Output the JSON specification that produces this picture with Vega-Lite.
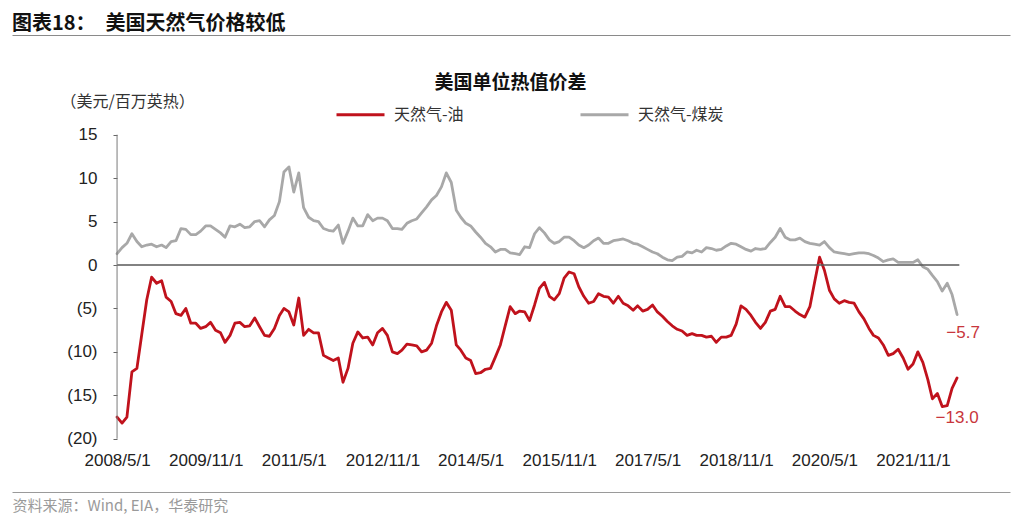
{
  "$schema": "https://vega.github.io/schema/vega-lite/v6.json",
  "width": 998,
  "height": 457,
  "autosize": "none",
  "padding": {"left": 12, "top": 35, "right": 14, "bottom": 34},
  "background": "white",
  "config": {"view": {"stroke": null}, "font": "Noto Sans CJK SC"},
  "title": {"text": "图表18：　美国天然气价格较低", "anchor": "start", "frame": "group", "font": "Noto Sans CJK SC", "fontSize": 20, "fontWeight": "bold", "color": "#111111", "offset": 2, "dy": 21, "baseline": "bottom"},
  "data": {"values": [
    {"date": "2008-05-01", "oil": -17.5, "coal": 1.3},
    {"date": "2008-06-01", "oil": -18.2, "coal": 2.0},
    {"date": "2008-07-01", "oil": -17.5, "coal": 2.5},
    {"date": "2008-08-01", "oil": -12.3, "coal": 3.6},
    {"date": "2008-09-01", "oil": -11.9, "coal": 2.7},
    {"date": "2008-10-01", "oil": -8.0, "coal": 2.1},
    {"date": "2008-11-01", "oil": -4.0, "coal": 2.3},
    {"date": "2008-12-01", "oil": -1.4, "coal": 2.4},
    {"date": "2009-01-01", "oil": -2.1, "coal": 2.1},
    {"date": "2009-02-01", "oil": -1.8, "coal": 2.3},
    {"date": "2009-03-01", "oil": -3.7, "coal": 2.0},
    {"date": "2009-04-01", "oil": -4.2, "coal": 2.7},
    {"date": "2009-05-01", "oil": -5.6, "coal": 2.8},
    {"date": "2009-06-01", "oil": -5.8, "coal": 4.2},
    {"date": "2009-07-01", "oil": -5.0, "coal": 4.1},
    {"date": "2009-08-01", "oil": -6.7, "coal": 3.5},
    {"date": "2009-09-01", "oil": -6.7, "coal": 3.5},
    {"date": "2009-10-01", "oil": -7.3, "coal": 3.9},
    {"date": "2009-11-01", "oil": -7.1, "coal": 4.5},
    {"date": "2009-12-01", "oil": -6.6, "coal": 4.5},
    {"date": "2010-01-01", "oil": -7.5, "coal": 4.1},
    {"date": "2010-02-01", "oil": -7.8, "coal": 3.7},
    {"date": "2010-03-01", "oil": -8.9, "coal": 3.2},
    {"date": "2010-04-01", "oil": -8.1, "coal": 4.5},
    {"date": "2010-05-01", "oil": -6.7, "coal": 4.4},
    {"date": "2010-06-01", "oil": -6.6, "coal": 4.7},
    {"date": "2010-07-01", "oil": -7.1, "coal": 4.3},
    {"date": "2010-08-01", "oil": -7.0, "coal": 4.4},
    {"date": "2010-09-01", "oil": -6.1, "coal": 5.0},
    {"date": "2010-10-01", "oil": -7.1, "coal": 5.1},
    {"date": "2010-11-01", "oil": -8.1, "coal": 4.4},
    {"date": "2010-12-01", "oil": -8.2, "coal": 5.2},
    {"date": "2011-01-01", "oil": -7.3, "coal": 5.7},
    {"date": "2011-02-01", "oil": -5.8, "coal": 7.3},
    {"date": "2011-03-01", "oil": -5.0, "coal": 10.7},
    {"date": "2011-04-01", "oil": -5.4, "coal": 11.3},
    {"date": "2011-05-01", "oil": -6.9, "coal": 8.4},
    {"date": "2011-06-01", "oil": -3.8, "coal": 10.6},
    {"date": "2011-07-01", "oil": -8.1, "coal": 6.6},
    {"date": "2011-08-01", "oil": -7.4, "coal": 5.5},
    {"date": "2011-09-01", "oil": -7.8, "coal": 5.1},
    {"date": "2011-10-01", "oil": -7.8, "coal": 5.0},
    {"date": "2011-11-01", "oil": -10.4, "coal": 4.2},
    {"date": "2011-12-01", "oil": -10.7, "coal": 4.0},
    {"date": "2012-01-01", "oil": -11.0, "coal": 3.9},
    {"date": "2012-02-01", "oil": -10.7, "coal": 4.6},
    {"date": "2012-03-01", "oil": -13.5, "coal": 2.5},
    {"date": "2012-04-01", "oil": -11.9, "coal": 3.9},
    {"date": "2012-05-01", "oil": -9.0, "coal": 5.4},
    {"date": "2012-06-01", "oil": -7.7, "coal": 4.5},
    {"date": "2012-07-01", "oil": -8.4, "coal": 4.5},
    {"date": "2012-08-01", "oil": -8.3, "coal": 5.8},
    {"date": "2012-09-01", "oil": -9.2, "coal": 5.1},
    {"date": "2012-10-01", "oil": -7.8, "coal": 5.4},
    {"date": "2012-11-01", "oil": -7.3, "coal": 5.4},
    {"date": "2012-12-01", "oil": -8.1, "coal": 5.1},
    {"date": "2013-01-01", "oil": -10.0, "coal": 4.2},
    {"date": "2013-02-01", "oil": -10.2, "coal": 4.2},
    {"date": "2013-03-01", "oil": -9.8, "coal": 4.1},
    {"date": "2013-04-01", "oil": -9.1, "coal": 4.8},
    {"date": "2013-05-01", "oil": -9.2, "coal": 5.1},
    {"date": "2013-06-01", "oil": -9.3, "coal": 5.3},
    {"date": "2013-07-01", "oil": -10.0, "coal": 6.0},
    {"date": "2013-08-01", "oil": -9.8, "coal": 6.7},
    {"date": "2013-09-01", "oil": -9.0, "coal": 7.5},
    {"date": "2013-10-01", "oil": -7.0, "coal": 8.0},
    {"date": "2013-11-01", "oil": -5.4, "coal": 9.0},
    {"date": "2013-12-01", "oil": -4.3, "coal": 10.6},
    {"date": "2014-01-01", "oil": -5.2, "coal": 9.5},
    {"date": "2014-02-01", "oil": -9.2, "coal": 6.3},
    {"date": "2014-03-01", "oil": -9.8, "coal": 5.5},
    {"date": "2014-04-01", "oil": -10.7, "coal": 4.8},
    {"date": "2014-05-01", "oil": -11.0, "coal": 4.5},
    {"date": "2014-06-01", "oil": -12.5, "coal": 3.8},
    {"date": "2014-07-01", "oil": -12.4, "coal": 3.2},
    {"date": "2014-08-01", "oil": -12.0, "coal": 2.5},
    {"date": "2014-09-01", "oil": -11.9, "coal": 2.1},
    {"date": "2014-10-01", "oil": -10.6, "coal": 1.5},
    {"date": "2014-11-01", "oil": -9.2, "coal": 1.8},
    {"date": "2014-12-01", "oil": -7.0, "coal": 1.8},
    {"date": "2015-01-01", "oil": -4.8, "coal": 1.4},
    {"date": "2015-02-01", "oil": -5.6, "coal": 1.3},
    {"date": "2015-03-01", "oil": -5.3, "coal": 1.2},
    {"date": "2015-04-01", "oil": -5.4, "coal": 2.1},
    {"date": "2015-05-01", "oil": -6.4, "coal": 2.0},
    {"date": "2015-06-01", "oil": -4.6, "coal": 3.6},
    {"date": "2015-07-01", "oil": -2.7, "coal": 4.3},
    {"date": "2015-08-01", "oil": -2.0, "coal": 3.7},
    {"date": "2015-09-01", "oil": -3.6, "coal": 2.9},
    {"date": "2015-10-01", "oil": -4.0, "coal": 2.5},
    {"date": "2015-11-01", "oil": -3.3, "coal": 2.7},
    {"date": "2015-12-01", "oil": -1.5, "coal": 3.2},
    {"date": "2016-01-01", "oil": -0.8, "coal": 3.2},
    {"date": "2016-02-01", "oil": -1.0, "coal": 2.8},
    {"date": "2016-03-01", "oil": -2.5, "coal": 2.3},
    {"date": "2016-04-01", "oil": -3.6, "coal": 2.0},
    {"date": "2016-05-01", "oil": -4.4, "coal": 2.3},
    {"date": "2016-06-01", "oil": -4.2, "coal": 2.8},
    {"date": "2016-07-01", "oil": -3.3, "coal": 3.1},
    {"date": "2016-08-01", "oil": -3.6, "coal": 2.5},
    {"date": "2016-09-01", "oil": -3.7, "coal": 2.5},
    {"date": "2016-10-01", "oil": -4.4, "coal": 2.8},
    {"date": "2016-11-01", "oil": -3.6, "coal": 2.9},
    {"date": "2016-12-01", "oil": -4.4, "coal": 3.0},
    {"date": "2017-01-01", "oil": -4.7, "coal": 2.8},
    {"date": "2017-02-01", "oil": -5.2, "coal": 2.5},
    {"date": "2017-03-01", "oil": -4.7, "coal": 2.4},
    {"date": "2017-04-01", "oil": -5.3, "coal": 2.1},
    {"date": "2017-05-01", "oil": -5.1, "coal": 1.8},
    {"date": "2017-06-01", "oil": -4.6, "coal": 1.5},
    {"date": "2017-07-01", "oil": -5.4, "coal": 1.3},
    {"date": "2017-08-01", "oil": -5.9, "coal": 0.9},
    {"date": "2017-09-01", "oil": -6.5, "coal": 0.6},
    {"date": "2017-10-01", "oil": -7.0, "coal": 0.5},
    {"date": "2017-11-01", "oil": -7.4, "coal": 0.9},
    {"date": "2017-12-01", "oil": -7.6, "coal": 1.0},
    {"date": "2018-01-01", "oil": -8.1, "coal": 1.5},
    {"date": "2018-02-01", "oil": -7.9, "coal": 1.4},
    {"date": "2018-03-01", "oil": -8.1, "coal": 1.7},
    {"date": "2018-04-01", "oil": -8.1, "coal": 1.5},
    {"date": "2018-05-01", "oil": -8.3, "coal": 2.0},
    {"date": "2018-06-01", "oil": -8.2, "coal": 1.9},
    {"date": "2018-07-01", "oil": -8.9, "coal": 1.7},
    {"date": "2018-08-01", "oil": -8.3, "coal": 1.8},
    {"date": "2018-09-01", "oil": -8.3, "coal": 2.2},
    {"date": "2018-10-01", "oil": -8.1, "coal": 2.5},
    {"date": "2018-11-01", "oil": -6.8, "coal": 2.4},
    {"date": "2018-12-01", "oil": -4.7, "coal": 2.1},
    {"date": "2019-01-01", "oil": -5.1, "coal": 1.8},
    {"date": "2019-02-01", "oil": -5.8, "coal": 1.6},
    {"date": "2019-03-01", "oil": -6.6, "coal": 1.9},
    {"date": "2019-04-01", "oil": -7.3, "coal": 1.8},
    {"date": "2019-05-01", "oil": -6.6, "coal": 1.9},
    {"date": "2019-06-01", "oil": -5.3, "coal": 2.6},
    {"date": "2019-07-01", "oil": -5.1, "coal": 3.2},
    {"date": "2019-08-01", "oil": -3.6, "coal": 4.2},
    {"date": "2019-09-01", "oil": -4.8, "coal": 3.2},
    {"date": "2019-10-01", "oil": -4.8, "coal": 2.9},
    {"date": "2019-11-01", "oil": -5.3, "coal": 2.9},
    {"date": "2019-12-01", "oil": -5.7, "coal": 3.1},
    {"date": "2020-01-01", "oil": -6.0, "coal": 2.7},
    {"date": "2020-02-01", "oil": -4.8, "coal": 2.5},
    {"date": "2020-03-01", "oil": -2.0, "coal": 2.4},
    {"date": "2020-04-01", "oil": 0.9, "coal": 2.3},
    {"date": "2020-05-01", "oil": -0.6, "coal": 2.7},
    {"date": "2020-06-01", "oil": -2.9, "coal": 2.0},
    {"date": "2020-07-01", "oil": -3.9, "coal": 1.5},
    {"date": "2020-08-01", "oil": -4.4, "coal": 1.4},
    {"date": "2020-09-01", "oil": -4.1, "coal": 1.3},
    {"date": "2020-10-01", "oil": -4.3, "coal": 1.2},
    {"date": "2020-11-01", "oil": -4.4, "coal": 1.3},
    {"date": "2020-12-01", "oil": -5.4, "coal": 1.4},
    {"date": "2021-01-01", "oil": -6.2, "coal": 1.4},
    {"date": "2021-02-01", "oil": -7.3, "coal": 1.3},
    {"date": "2021-03-01", "oil": -8.1, "coal": 1.1},
    {"date": "2021-04-01", "oil": -8.4, "coal": 0.8},
    {"date": "2021-05-01", "oil": -9.2, "coal": 0.4},
    {"date": "2021-06-01", "oil": -10.4, "coal": 0.6},
    {"date": "2021-07-01", "oil": -10.2, "coal": 0.7},
    {"date": "2021-08-01", "oil": -9.7, "coal": 0.3},
    {"date": "2021-09-01", "oil": -10.7, "coal": 0.3},
    {"date": "2021-10-01", "oil": -12.0, "coal": 0.3},
    {"date": "2021-11-01", "oil": -11.4, "coal": 0.3},
    {"date": "2021-12-01", "oil": -10.0, "coal": 0.6},
    {"date": "2022-01-01", "oil": -11.2, "coal": -0.2},
    {"date": "2022-02-01", "oil": -13.2, "coal": -0.5},
    {"date": "2022-03-01", "oil": -15.4, "coal": -1.2},
    {"date": "2022-04-01", "oil": -14.8, "coal": -1.9},
    {"date": "2022-05-01", "oil": -16.3, "coal": -3.0},
    {"date": "2022-06-01", "oil": -16.2, "coal": -2.1},
    {"date": "2022-07-01", "oil": -14.2, "coal": -3.4},
    {"date": "2022-08-01", "oil": -13.0, "coal": -5.7}
  ]},
  "transform": [{"fold": ["oil", "coal"], "as": ["series", "value"]}],
  "encoding": {
    "y": {
      "field": "value", "type": "quantitative",
      "scale": {"domain": [-26.13, 26.48], "nice": false, "zero": false},
      "axis": {
        "orient": "left", "offset": -105,
        "values": [-20, -15, -10, -5, 0, 5, 10, 15],
        "labelExpr": "datum.value < 0 ? '(' + (-datum.value) + ')' : '' + datum.value",
        "domain": false, "grid": false, "ticks": true, "tickSize": 4, "tickColor": "#666666", "tickWidth": 1,
        "labelPadding": 16, "labelFont": "Liberation Sans", "labelFontSize": 17, "labelColor": "#222222",
        "title": "（美元/百万英热）", "titleAngle": 0, "titleX": -57, "titleY": 66, "titleAlign": "left", "titleBaseline": "middle",
        "titleFont": "Noto Sans CJK SC", "titleFontSize": 16, "titleFontWeight": "normal", "titleColor": "#333333"
      }
    }
  },
  "layer": [
    {
      "mark": {"type": "line", "strokeWidth": 2.8, "strokeJoin": "round", "strokeCap": "round"},
      "encoding": {
        "x": {
          "field": "date", "type": "temporal",
          "scale": {"type": "utc", "domain": [{"year": 2006, "month": 7, "date": 20, "utc": true}, {"year": 2023, "month": 6, "date": 25, "utc": true}]},
          "axis": {
            "orient": "bottom",
            "values": [
              {"year": 2008, "month": 5, "date": 1, "utc": true},
              {"year": 2009, "month": 11, "date": 1, "utc": true},
              {"year": 2011, "month": 5, "date": 1, "utc": true},
              {"year": 2012, "month": 11, "date": 1, "utc": true},
              {"year": 2014, "month": 5, "date": 1, "utc": true},
              {"year": 2015, "month": 11, "date": 1, "utc": true},
              {"year": 2017, "month": 5, "date": 1, "utc": true},
              {"year": 2018, "month": 11, "date": 1, "utc": true},
              {"year": 2020, "month": 5, "date": 1, "utc": true},
              {"year": 2021, "month": 11, "date": 1, "utc": true}
            ],
            "labelExpr": "utcFormat(datum.value, '%Y/%-m/%-d')",
            "domain": true, "domainColor": "#9a9a9a", "domainWidth": 1,
            "ticks": false, "tickSize": 0, "grid": false,
            "labelPadding": -40, "labelBaseline": "top", "labelFont": "Liberation Sans", "labelFontSize": 17, "labelColor": "#222222",
            "labelOverlap": false, "labelBound": false, "labelFlush": false,
            "title": "资料来源：Wind, EIA，华泰研究", "titleX": 0, "titleY": 13, "titleAlign": "left", "titleAnchor": "start", "titleBaseline": "middle",
            "titleFont": "Noto Sans CJK SC", "titleFontSize": 15, "titleFontWeight": "normal", "titleColor": "#9a9a9a"
          }
        },
        "color": {
          "field": "series", "type": "nominal",
          "scale": {"domain": ["oil", "coal"], "range": ["#C0121C", "#A8A8A8"]},
          "legend": {
            "orient": "none", "legendX": 323, "legendY": 54, "direction": "horizontal", "columns": 2, "columnPadding": 110,
            "title": null,
            "labelExpr": "datum.value == 'oil' ? '天然气-油' : '天然气-煤炭'",
            "labelFont": "Noto Sans CJK SC", "labelFontSize": 16, "labelColor": "#333333", "labelOffset": 8,
            "symbolType": "stroke", "symbolSize": 2304, "symbolStrokeWidth": 3
          }
        }
      }
    },
    {
      "transform": [{"filter": "datum.series == 'coal' && utcyear(datum.date) == 2022 && utcmonth(datum.date) == 7"}],
      "mark": {"type": "text", "dx": 6, "dy": 18, "fontSize": 17, "font": "Liberation Sans", "color": "#C8363C"},
      "encoding": {
        "x": {
          "field": "date", "type": "temporal",
          "scale": {"type": "utc", "domain": [{"year": 2006, "month": 7, "date": 20, "utc": true}, {"year": 2023, "month": 6, "date": 25, "utc": true}]},
          "axis": {
            "orient": "top", "labels": false, "ticks": false, "grid": false,
            "domain": true, "domainColor": "#8a8a8a", "domainWidth": 1,
            "title": "美国单位热值价差", "titleX": 498, "titleY": 47, "titleAlign": "center", "titleBaseline": "middle",
            "titleFont": "Noto Sans CJK SC", "titleFontSize": 19, "titleFontWeight": "bold", "titleColor": "#111111"
          }
        },
        "text": {"field": "value", "type": "quantitative", "format": ".1f"}
      }
    },
    {
      "transform": [{"filter": "datum.series == 'oil' && utcyear(datum.date) == 2022 && utcmonth(datum.date) == 7"}],
      "mark": {"type": "text", "dx": 0, "dy": 40, "fontSize": 17, "font": "Liberation Sans", "color": "#C8363C"},
      "encoding": {
        "x": {
          "field": "date", "type": "temporal",
          "scale": {"type": "utc", "domain": [{"year": 2006, "month": 7, "date": 20, "utc": true}, {"year": 2023, "month": 6, "date": 25, "utc": true}]},
          "axis": null
        },
        "text": {"field": "value", "type": "quantitative", "format": ".1f"}
      }
    },
    {
      "transform": [{"filter": "datum.series == 'oil' && utcyear(datum.date) == 2008 && utcmonth(datum.date) == 4"}],
      "mark": {"type": "rule", "color": "#595959", "strokeWidth": 1.5},
      "encoding": {
        "x": {"datum": {"year": 2008, "month": 5, "date": 1, "utc": true}, "type": "temporal", "axis": null},
        "x2": {"datum": {"year": 2022, "month": 8, "date": 15, "utc": true}},
        "y": {"datum": 0, "type": "quantitative"}
      }
    },
    {
      "transform": [{"filter": "datum.series == 'oil' && utcyear(datum.date) == 2008 && utcmonth(datum.date) == 4"}],
      "mark": {"type": "rule", "color": "#7a7a7a", "strokeWidth": 1},
      "encoding": {
        "x": {"datum": {"year": 2008, "month": 5, "date": 1, "utc": true}, "type": "temporal", "axis": null},
        "y": {"datum": -20, "type": "quantitative"},
        "y2": {"datum": 15}
      }
    }
  ],
  "resolve": {"axis": {"x": "independent"}}
}
